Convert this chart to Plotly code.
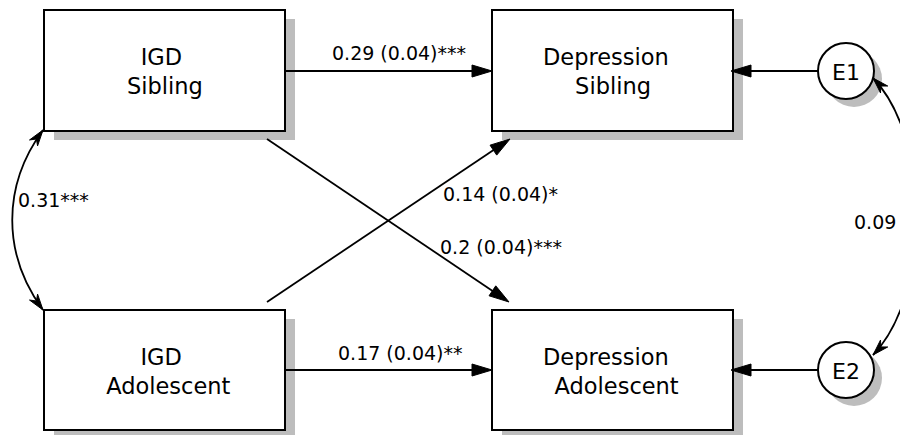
import math
import plotly.graph_objects as go

W, H = 908, 435
PAGE_MARGIN = 8  # browser default body margin around the plot div

# ---------------- data ----------------
node_ids = ["igd_sib", "dep_sib", "igd_ado", "dep_ado"]
node_line1 = ["IGD", "Depression", "IGD", "Depression"]
node_line2 = ["Sibling", "Sibling", "Adolescent", "Adolescent"]
error_ids = ["E1", "E2"]
error_targets = ["dep_sib", "dep_ado"]
path_from = ["igd_sib", "igd_ado", "igd_ado", "igd_sib"]
path_to = ["dep_sib", "dep_ado", "dep_sib", "dep_ado"]
path_coef = [0.29, 0.17, 0.14, 0.2]
path_se = [0.04, 0.04, 0.04, 0.04]
path_sig = ["***", "**", "*", "***"]
cov_pairs = [("igd_sib", "igd_ado"), ("E1", "E2")]
cov_values = ["0.31", "0.09"]
cov_sig = ["***", ""]

# ---------------- layout (pixel geometry) ----------------
box_geo = {
    "igd_sib": (44, 10, 285, 131),
    "dep_sib": (492, 10, 733, 131),
    "igd_ado": (44, 310, 285, 430),
    "dep_ado": (492, 310, 733, 430),
}
circle_geo = {"E1": (846, 71, 28), "E2": (846, 370, 28)}
line1_pad = {"igd_sib": 1, "dep_sib": 2, "igd_ado": 1, "dep_ado": 2}
line2_pad = {"igd_sib": 0, "dep_sib": 0, "igd_ado": 1, "dep_ado": 1}

path_geo = {
    ("igd_sib", "dep_sib"): ((285, 71), (492, 71), dict(x=399, y=53, xanchor="center")),
    ("igd_ado", "dep_ado"): ((285, 370), (492, 370), dict(x=400, y=353, xanchor="center")),
    ("igd_ado", "dep_sib"): ((267, 302), (510, 139), dict(x=441, y=194, xanchor="left")),
    ("igd_sib", "dep_ado"): ((267, 139), (509, 302), dict(x=438, y=247, xanchor="left")),
}
err_geo = {"E1": ((818, 71), (731, 71)), "E2": ((818, 370), (731, 370))}
cov_geo = {
    ("igd_sib", "igd_ado"): ((43, 130), (2, 186), (2, 254), (43, 310), dict(x=16, y=200, xanchor="left")),
    ("E1", "E2"): ((873, 78), (931, 138), (931, 295), (873, 355), dict(x=875, y=222, xanchor="center")),
}

SHADOW = "#bdbdbd"
FONT = "DejaVu Sans"
shapes = []
annotations = []


def fmt(v):
    return f"{v:g}"


def head(tip, direction, L=20, w=6, notch=0.0):
    dx, dy = direction
    n = math.hypot(dx, dy)
    ux, uy = dx / n, dy / n
    px, py = -uy, ux
    bx, by = tip[0] - L * ux, tip[1] - L * uy
    pts = [tip, (bx + w * px, by + w * py)]
    if notch:
        pts.append((tip[0] - L * (1 - notch) * ux, tip[1] - L * (1 - notch) * uy))
    pts.append((bx - w * px, by - w * py))
    d = "M " + " L ".join(f"{x:.2f},{y:.2f}" for x, y in pts) + " Z"
    shapes.append(dict(type="path", path=d, fillcolor="black", line=dict(color="black", width=1)))


def arrow(p0, p1, L=20, w=6):
    dx, dy = p1[0] - p0[0], p1[1] - p0[1]
    n = math.hypot(dx, dy)
    ex, ey = p1[0] - (L - 2) * dx / n, p1[1] - (L - 2) * dy / n
    shapes.append(dict(type="line", x0=p0[0], y0=p0[1], x1=ex, y1=ey,
                       line=dict(color="black", width=1.8)))
    head(p1, (dx, dy), L, w)


# boxes
for i, nid in enumerate(node_ids):
    x0, y0, x1, y1 = box_geo[nid]
    shapes.append(dict(type="rect", x0=x0 + 10, y0=y0 + 9, x1=x1 + 10, y1=y1 + 9,
                       fillcolor=SHADOW, line=dict(width=0)))
    shapes.append(dict(type="rect", x0=x0, y0=y0, x1=x1, y1=y1,
                       fillcolor="white", line=dict(color="black", width=2)))
    t = node_line1[i] + "\u00a0" * line1_pad[nid] + "<br>" + "\u00a0" * line2_pad[nid] + node_line2[i]
    annotations.append(dict(x=(x0 + x1) / 2, y=(y0 + y1) / 2 + 1, text=t, showarrow=False,
                            xanchor="center", yanchor="middle", align="center",
                            font=dict(family=FONT, size=22.5, color="black")))

# error circles
for eid in error_ids:
    cx, cy, r = circle_geo[eid]
    shapes.append(dict(type="circle", x0=cx - r + 8, y0=cy - r + 8, x1=cx + r + 8, y1=cy + r + 8,
                       fillcolor=SHADOW, line=dict(width=0)))
    shapes.append(dict(type="circle", x0=cx - r, y0=cy - r, x1=cx + r, y1=cy + r,
                       fillcolor="white", line=dict(color="black", width=2)))
    annotations.append(dict(x=cx, y=cy + 1, text=eid, showarrow=False, xanchor="center", yanchor="middle",
                            font=dict(family=FONT, size=22, color="black")))

# regression paths
for f, t, c, s, sig in zip(path_from, path_to, path_coef, path_se, path_sig):
    p0, p1, lab = path_geo[(f, t)]
    arrow(p0, p1)
    annotations.append(dict(text=f"{fmt(c)} ({fmt(s)}){sig}", showarrow=False, yanchor="middle",
                            font=dict(family=FONT, size=19, color="black"), **lab))

# residual paths
for eid, tgt in zip(error_ids, error_targets):
    p0, p1 = err_geo[eid]
    arrow(p0, p1)

# covariances
for pair, v, sig in zip(cov_pairs, cov_values, cov_sig):
    a, c1, c2, b, lab = cov_geo[pair]
    d = f"M {a[0]},{a[1]} C {c1[0]},{c1[1]} {c2[0]},{c2[1]} {b[0]},{b[1]}"
    shapes.append(dict(type="path", path=d, line=dict(color="black", width=1.8)))
    head(a, (a[0] - c1[0], a[1] - c1[1]), L=16, w=5, notch=0.3)
    head(b, (b[0] - c2[0], b[1] - c2[1]), L=16, w=5, notch=0.3)
    annotations.append(dict(text=v + sig, showarrow=False, yanchor="middle",
                            font=dict(family=FONT, size=19, color="black"), **lab))

fig = go.Figure()
fig.update_layout(
    width=W - PAGE_MARGIN, height=H - PAGE_MARGIN, margin=dict(l=0, r=0, t=0, b=0),
    paper_bgcolor="white", plot_bgcolor="white", showlegend=False,
    xaxis=dict(range=[PAGE_MARGIN, W], visible=False, fixedrange=True),
    yaxis=dict(range=[H, PAGE_MARGIN], visible=False, fixedrange=True),
    shapes=shapes, annotations=annotations,
)
fig.write_html("out.html")
